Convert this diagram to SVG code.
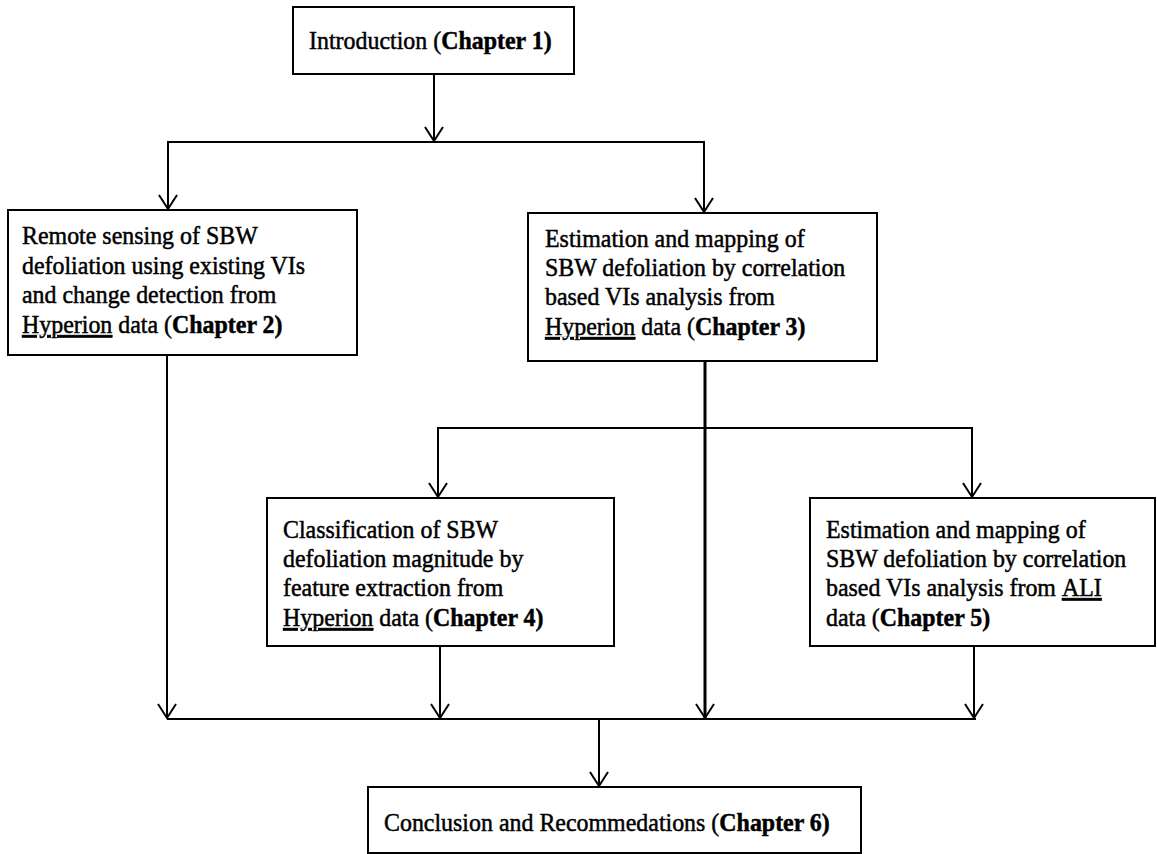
<svg xmlns="http://www.w3.org/2000/svg" width="1157" height="854" viewBox="0 0 1157 854">
<style>
.box{fill:#fff;stroke:#000;stroke-width:2}
.t{font-family:"Liberation Serif","Times New Roman",serif;font-size:26px;fill:#000;stroke:#000;stroke-width:0.5}
.b{font-weight:bold}
.u{text-decoration:underline}
.c{fill:none;stroke:#000;stroke-width:2}
</style>
<defs>
<marker id="ah" viewBox="-16 -11 18 22" refX="0" refY="0" markerWidth="18" markerHeight="22" markerUnits="userSpaceOnUse" orient="auto">
<path d="M-14,-9 L0,0 L-14,9" fill="none" stroke="#000" stroke-width="2"/>
</marker>
</defs>
<rect width="1157" height="854" fill="#fff"/>
<g id="connectors">
<line class="c" x1="434" y1="74" x2="434" y2="141" marker-end="url(#ah)"/>
<line class="c" x1="167" y1="142" x2="705" y2="142"/>
<line class="c" x1="168" y1="142" x2="168" y2="209" marker-end="url(#ah)"/>
<line class="c" x1="704" y1="142" x2="704" y2="212" marker-end="url(#ah)"/>
<line class="c" x1="167" y1="355" x2="167" y2="718" marker-end="url(#ah)"/>
<line class="c" x1="705" y1="361" x2="705" y2="718" marker-end="url(#ah)" style="stroke-width:3"/>
<line class="c" x1="437" y1="428" x2="973" y2="428"/>
<line class="c" x1="438" y1="428" x2="438" y2="497" marker-end="url(#ah)"/>
<line class="c" x1="972" y1="428" x2="972" y2="497" marker-end="url(#ah)"/>
<line class="c" x1="440" y1="646" x2="440" y2="718" marker-end="url(#ah)"/>
<line class="c" x1="974" y1="646" x2="974" y2="718" marker-end="url(#ah)"/>
<line class="c" x1="167" y1="719" x2="976" y2="719"/>
<line class="c" x1="599" y1="719" x2="599" y2="786" marker-end="url(#ah)"/>
</g>
<g id="n1">
<rect class="box" x="293" y="7" width="281" height="67"/>
<g transform="translate(309,0) scale(0.92,1)">
<text class="t" x="0" y="49">Introduction (<tspan class="b">Chapter 1)</tspan></text>
</g>
</g>
<g id="n2">
<rect class="box" x="8" y="210" width="349" height="145"/>
<g transform="translate(22,0) scale(0.92,1)">
<text class="t" x="0" y="244">Remote sensing of SBW</text>
<text class="t" x="0" y="274">defoliation using existing VIs</text>
<text class="t" x="0" y="303">and change detection from</text>
<text class="t" x="0" y="333"><tspan class="u">Hyperion</tspan> data (<tspan class="b">Chapter 2)</tspan></text>
</g>
</g>
<g id="n3">
<rect class="box" x="528" y="213" width="349" height="148"/>
<g transform="translate(545,0) scale(0.92,1)">
<text class="t" x="0" y="247">Estimation and mapping of</text>
<text class="t" x="0" y="276">SBW defoliation by correlation</text>
<text class="t" x="0" y="305">based VIs analysis from</text>
<text class="t" x="0" y="335"><tspan class="u">Hyperion</tspan> data (<tspan class="b">Chapter 3)</tspan></text>
</g>
</g>
<g id="n4">
<rect class="box" x="267" y="498" width="347" height="148"/>
<g transform="translate(283,0) scale(0.92,1)">
<text class="t" x="0" y="538">Classification of SBW</text>
<text class="t" x="0" y="567">defoliation magnitude by</text>
<text class="t" x="0" y="596">feature extraction from</text>
<text class="t" x="0" y="626"><tspan class="u">Hyperion</tspan> data (<tspan class="b">Chapter 4)</tspan></text>
</g>
</g>
<g id="n5">
<rect class="box" x="810" y="498" width="345" height="148"/>
<g transform="translate(826,0) scale(0.92,1)">
<text class="t" x="0" y="538">Estimation and mapping of</text>
<text class="t" x="0" y="567">SBW defoliation by correlation</text>
<text class="t" x="0" y="596">based VIs analysis from <tspan class="u">ALI</tspan></text>
<text class="t" x="0" y="626">data (<tspan class="b">Chapter 5)</tspan></text>
</g>
</g>
<g id="n6">
<rect class="box" x="368" y="787" width="493" height="66"/>
<g transform="translate(384,0) scale(0.92,1)">
<text class="t" x="0" y="831">Conclusion and Recommedations (<tspan class="b">Chapter 6)</tspan></text>
</g>
</g>
</svg>
